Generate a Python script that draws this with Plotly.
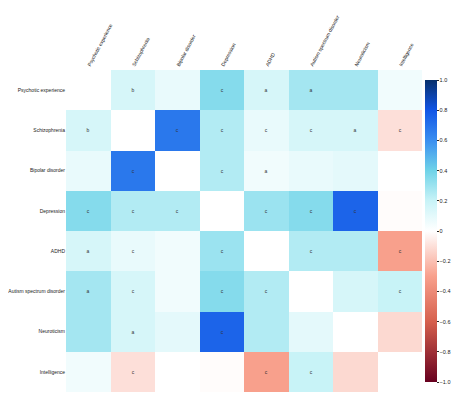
import numpy as np
import plotly.graph_objects as go

traits = ["Psychotic experience", "Schizophrenia", "Bipolar disorder", "Depression",
          "ADHD", "Autism spectrum disorder", "Neuroticism", "Intelligence"]

nan = np.nan
rg = [
    [nan, 0.15, 0.08, 0.35, 0.15, 0.28, 0.28, 0.05],
    [0.15, nan, 0.68, 0.25, 0.08, 0.15, 0.15, -0.10],
    [0.08, 0.68, nan, 0.25, 0.05, 0.08, 0.10, 0.00],
    [0.35, 0.25, 0.25, nan, 0.30, 0.35, 0.75, -0.01],
    [0.15, 0.08, 0.05, 0.30, nan, 0.25, 0.25, -0.30],
    [0.28, 0.15, 0.05, 0.35, 0.25, nan, 0.15, 0.20],
    [0.28, 0.15, 0.10, 0.75, 0.25, 0.10, nan, -0.12],
    [0.05, -0.10, 0.00, -0.01, -0.30, 0.20, -0.12, nan],
]

sig = [
    ["", "b", "", "c", "a", "a", "", ""],
    ["b", "", "c", "c", "c", "c", "a", "c"],
    ["", "c", "", "c", "a", "", "", ""],
    ["c", "c", "c", "", "c", "c", "c", ""],
    ["a", "c", "", "c", "", "c", "", "c"],
    ["a", "c", "", "c", "c", "", "", "c"],
    ["", "a", "", "c", "", "", "", ""],
    ["", "c", "", "", "c", "c", "", ""],
]

colorscale = [
    [0.0, "#67001f"],
    [0.2, "#d6604d"],
    [0.35, "#f8a08c"],
    [0.5, "#ffffff"],
    [0.6, "#c8f3f7"],
    [0.7, "#6fd3e8"],
    [0.8, "#3b8ff0"],
    [0.9, "#1155e6"],
    [1.0, "#08306b"],
]

fig = go.Figure(
    go.Heatmap(
        z=rg,
        x=traits,
        y=traits,
        text=sig,
        texttemplate="%{text}",
        textfont=dict(size=5, color="#333"),
        colorscale=colorscale,
        zmin=-1,
        zmax=1,
        hoverongaps=False,
        colorbar=dict(
            tickvals=[1.0, 0.8, 0.6, 0.4, 0.2, 0, -0.2, -0.4, -0.6, -0.8, -1.0],
            ticktext=["1.0", "0.8", "0.6", "0.4", "0.2", "0", "−0.2", "−0.4", "−0.6", "−0.8", "−1.0"],
            thickness=12,
            len=1.0,
            x=1.0,
            xpad=3,
            outlinewidth=0,
            tickfont=dict(size=5.5),
            ticks="outside",
            ticklen=2,
        ),
    )
)

fig.update_xaxes(side="top", tickangle=-62, tickfont=dict(size=5), showgrid=False,
                 ticks="", zeroline=False, showline=False, automargin=False)
fig.update_yaxes(autorange="reversed", tickfont=dict(size=5), showgrid=False,
                 ticks="", zeroline=False, showline=False, automargin=False,
                 ticklabelstandoff=0)

fig.update_layout(
    width=467,
    height=406,
    template="simple_white",
    font=dict(family="Liberation Sans Narrow, Liberation Sans, sans-serif", color="#222"),
    plot_bgcolor="white",
    margin=dict(l=58, r=53, t=62, b=22, autoexpand=False),
)

fig.write_html("out.html")
